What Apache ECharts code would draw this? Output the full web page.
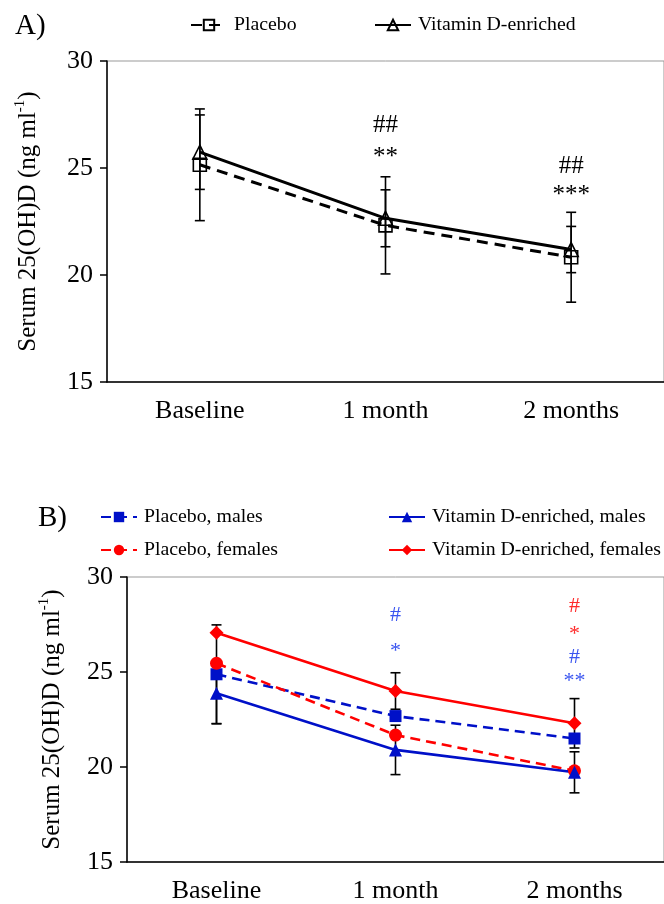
<!DOCTYPE html>
<html><head><meta charset="utf-8">
<script src="https://cdn.jsdelivr.net/npm/echarts@6/dist/echarts.min.js"></script>
<style>html,body{margin:0;padding:0;background:#fff}#c{width:664px;height:904px}</style>
</head><body><div id="c"></div>
<script>
// ---- data ----
const categories = ['Baseline', '1 month', '2 months'];
const yMin = 15, yMax = 30, yInterval = 5;
// Panel A
const placeboA = [25.15, 22.32, 20.83];
const placeboAErr = [2.61, 2.27, 2.1];
const vitDA = [25.74, 22.65, 21.19];
const vitDAErr = [1.74, 1.33, 1.08];
const annotAPos = [[1, 27.0], [1, 25.5], [2, 25.06], [2, 23.7]];
const annotAText = ['##', '**', '##', '***'];
// Panel B
const placeboMalesB = [24.88, 22.68, 21.5];
const placeboFemalesB = [25.46, 21.68, 19.8];
const vitDMalesB = [23.88, 20.9, 19.72];
const vitDFemalesB = [27.07, 24.0, 22.3];
const placeboMalesBErr = [2.6, null, null];
const vitDMalesBErr = [1.6, 1.3, 1.08];
const vitDFemalesBErr = [null, 0.96, 1.3];
const annotBPos = [[1, 28.0], [1, 26.1], [2, 28.44], [2, 27.0], [2, 25.8], [2, 24.5]];
const annotBText = ['#', '*', '#', '*', '#', '**'];
const annotBColor = ['#3a55f0', '#3a55f0', '#ff2a2a', '#ff2a2a', '#3a55f0', '#3a55f0'];

const FONT = 'Liberation Serif';
const BLUE = '#0010c8', RED = '#ff0000';

function errData(vals, errs) {
  const out = [];
  vals.forEach((v, i) => { if (errs[i] != null) out.push([i, v - errs[i], v + errs[i]]); });
  return out;
}
function errRender(capHalf, lw) {
  return function (params, api) {
    const x = api.value(0);
    const lo = api.coord([x, api.value(1)]);
    const hi = api.coord([x, api.value(2)]);
    const style = { stroke: '#000', lineWidth: lw };
    return { type: 'group', children: [
      { type: 'line', shape: { x1: lo[0], y1: lo[1], x2: hi[0], y2: hi[1] }, style },
      { type: 'line', shape: { x1: lo[0] - capHalf, y1: lo[1], x2: lo[0] + capHalf, y2: lo[1] }, style },
      { type: 'line', shape: { x1: hi[0] - capHalf, y1: hi[1], x2: hi[0] + capHalf, y2: hi[1] }, style }
    ] };
  };
}
function annotRender(texts, colors, size) {
  return function (params, api) {
    const p = api.coord([api.value(0), api.value(1)]);
    const i = params.dataIndex;
    return { type: 'text', x: p[0], y: p[1], style: {
      text: texts[i], fontSize: size, fontFamily: FONT, fill: colors ? colors[i] : '#000',
      align: 'center', verticalAlign: 'middle' } };
  };
}

const xAxisBase = (gi) => ({
  type: 'category', gridIndex: gi, data: categories, boundaryGap: true,
  axisLine: { lineStyle: { color: '#000', width: 1.5 } },
  axisTick: { alignWithLabel: true, length: 6, lineStyle: { color: '#000', width: 1.5 } },
  axisLabel: { fontSize: 26, fontFamily: FONT, color: '#000', margin: 16 }
});
const yName = {
  rich: {
    t: { fontSize: 25, fontFamily: FONT, color: '#000', lineHeight: 30 },
    s: { fontSize: 15, fontFamily: FONT, color: '#000', lineHeight: 30, verticalAlign: 'top' }
  }
};
const yAxisBase = (gi, gap) => ({
  type: 'value', gridIndex: gi, min: yMin, max: yMax, interval: yInterval,
  name: '{t|Serum 25(OH)D (ng ml}{s|-1}{t|)}', nameLocation: 'middle', nameGap: gap, nameRotate: 90,
  nameTextStyle: yName,
  axisLine: { show: true, lineStyle: { color: '#000', width: 1.5 } },
  axisTick: { show: true, length: 7, lineStyle: { color: '#000', width: 1.5 } },
  splitLine: { show: false },
  axisLabel: { fontSize: 26, fontFamily: FONT, color: '#000', margin: 14 }
});

const legendBase = (name, left, top) => ({
  data: [name], left: left, top: top, itemWidth: 36, itemHeight: 13, padding: 0,
  textStyle: { fontSize: 19.8, fontFamily: FONT, color: '#000', padding: [0, 0, 0, 2] }, selectedMode: false
});

const option = {
  animation: false,
  backgroundColor: '#fff',
  title: [
    { text: 'A)', left: 10, top: 7, textStyle: { fontSize: 29, fontFamily: FONT, fontWeight: 'normal', color: '#000' } },
    { text: 'B)', left: 33, top: 499, textStyle: { fontSize: 29, fontFamily: FONT, fontWeight: 'normal', color: '#000' } }
  ],
  legend: [
    legendBase('Placebo', 190, 15),
    legendBase('Vitamin D-enriched', 374, 15),
    legendBase('Placebo, males', 100, 507),
    legendBase('Vitamin D-enriched, males', 388, 507),
    legendBase('Placebo, females', 100, 540),
    legendBase('Vitamin D-enriched, females', 388, 540)
  ],
  grid: [
    { left: 107, top: 61, width: 560, height: 321, show: true, borderColor: '#999', borderWidth: 1, backgroundColor: 'transparent' },
    { left: 127, top: 577, width: 538.5, height: 285, show: true, borderColor: '#999', borderWidth: 1, backgroundColor: 'transparent' }
  ],
  xAxis: [xAxisBase(0), xAxisBase(1)],
  yAxis: [yAxisBase(0, 64), yAxisBase(1, 60)],
  series: [
    { name: 'Placebo', type: 'line', xAxisIndex: 0, yAxisIndex: 0, data: placeboA, z: 3,
      lineStyle: { color: '#000', width: 3, type: [11, 7] }, symbol: 'rect', symbolSize: 13,
      itemStyle: { color: 'rgba(255,255,255,0)', borderColor: '#000', borderWidth: 1.6 } },
    { name: 'Vitamin D-enriched', type: 'line', xAxisIndex: 0, yAxisIndex: 0, data: vitDA, z: 3,
      lineStyle: { color: '#000', width: 3 }, symbol: 'triangle', symbolSize: 14,
      itemStyle: { color: 'rgba(255,255,255,0)', borderColor: '#000', borderWidth: 1.6 } },
    { type: 'custom', xAxisIndex: 0, yAxisIndex: 0, z: 4, renderItem: errRender(5, 1.6),
      encode: { x: 0, y: [1, 2] }, data: errData(placeboA, placeboAErr) },
    { type: 'custom', xAxisIndex: 0, yAxisIndex: 0, z: 4, renderItem: errRender(5, 1.6),
      encode: { x: 0, y: [1, 2] }, data: errData(vitDA, vitDAErr) },
    { type: 'custom', xAxisIndex: 0, yAxisIndex: 0, z: 5, renderItem: annotRender(annotAText, null, 25),
      encode: { x: 0, y: 1 }, data: annotAPos },

    { type: 'custom', xAxisIndex: 1, yAxisIndex: 1, z: 1, renderItem: errRender(5, 1.6),
      encode: { x: 0, y: [1, 2] }, data: errData(placeboMalesB, placeboMalesBErr) },
    { type: 'custom', xAxisIndex: 1, yAxisIndex: 1, z: 1, renderItem: errRender(5, 1.6),
      encode: { x: 0, y: [1, 2] }, data: errData(vitDMalesB, vitDMalesBErr) },
    { type: 'custom', xAxisIndex: 1, yAxisIndex: 1, z: 1, renderItem: errRender(5, 1.6),
      encode: { x: 0, y: [1, 2] }, data: errData(vitDFemalesB, vitDFemalesBErr) },
    { name: 'Placebo, males', type: 'line', xAxisIndex: 1, yAxisIndex: 1, data: placeboMalesB, z: 3,
      lineStyle: { color: BLUE, width: 2.6, type: [10, 6] }, symbol: 'rect', symbolSize: 12,
      itemStyle: { color: BLUE } },
    { name: 'Placebo, females', type: 'line', xAxisIndex: 1, yAxisIndex: 1, data: placeboFemalesB, z: 3,
      lineStyle: { color: RED, width: 2.6, type: [10, 6] }, symbol: 'circle', symbolSize: 13,
      itemStyle: { color: RED } },
    { name: 'Vitamin D-enriched, males', type: 'line', xAxisIndex: 1, yAxisIndex: 1, data: vitDMalesB, z: 3,
      lineStyle: { color: BLUE, width: 2.6 }, symbol: 'triangle', symbolSize: 13,
      itemStyle: { color: BLUE } },
    { name: 'Vitamin D-enriched, females', type: 'line', xAxisIndex: 1, yAxisIndex: 1, data: vitDFemalesB, z: 3,
      lineStyle: { color: RED, width: 2.6 }, symbol: 'diamond', symbolSize: 14,
      itemStyle: { color: RED } },
    { type: 'custom', xAxisIndex: 1, yAxisIndex: 1, z: 5, renderItem: annotRender(annotBText, annotBColor, 22),
      encode: { x: 0, y: 1 }, data: annotBPos }
  ]
};
const chart = echarts.init(document.getElementById('c'), null, { renderer: 'canvas' });
chart.setOption(option);
</script></body></html>
